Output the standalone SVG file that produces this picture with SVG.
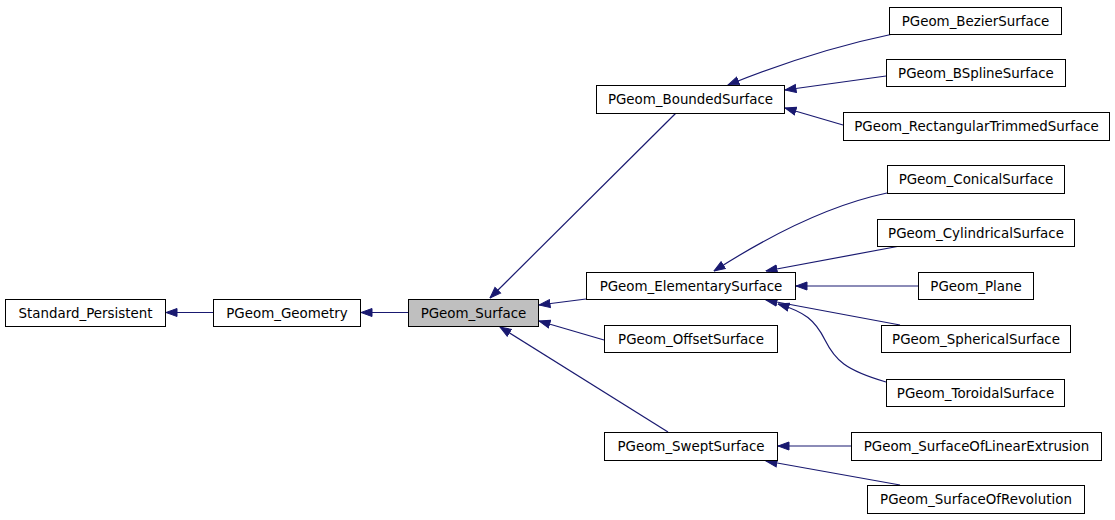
<svg xmlns="http://www.w3.org/2000/svg" width="1115" height="520" viewBox="0 0 1115 520">
<style>
rect{fill:#fff;stroke:#000;stroke-width:1}
.g rect{fill:#bfbfbf}
text{font-family:"DejaVu Sans",sans-serif;font-size:13.4px;text-anchor:middle;fill:#000}
#edges path{fill:none;stroke:#191970;stroke-width:1.2;marker-end:url(#arr)}
</style>
<defs>
<marker id="arr" markerUnits="userSpaceOnUse" markerWidth="12" markerHeight="10" refX="11.5" refY="4.5" orient="auto" viewBox="0 0 12 9">
<path d="M0.5,0.5 L11.5,4.5 L0.5,8.5 z" fill="#191970" stroke="#191970"/>
</marker>
</defs>
<rect x="0" y="0" width="1115" height="520" style="fill:#fff;stroke:none"/>
<g id="edges">
<path d="M213,312.5 L166,312.5"/>
<path d="M408,312.5 L361,312.5"/>
<path d="M676,113 L490,298"/>
<path d="M586,299 L539,305"/>
<path d="M604,340 L539,321"/>
<path d="M668,432 L500,327"/>
<path d="M893,34 C840,45 790,60 728,85"/>
<path d="M886,76 L785,90"/>
<path d="M843,125 L785,108"/>
<path d="M887,193 C830,205 770,235 714,271"/>
<path d="M900,246 L766,271"/>
<path d="M918,286 L796,286"/>
<path d="M900,325 L766,300"/>
<path d="M886,382 C845,370 835,360 825,340 C815,320 805,312 778,304"/>
<path d="M851,446 L778,446"/>
<path d="M900,485 L766,461"/>
</g>
<g id="n_standard_persistent"><rect x="5.5" y="299.5" width="160" height="27"/><text x="85.5" y="317.5">Standard_Persistent</text></g>
<g id="n_geometry"><rect x="213.5" y="299.5" width="147" height="27"/><text x="287" y="317.5">PGeom_Geometry</text></g>
<g id="n_surface" class="g"><rect x="408.5" y="299.5" width="130" height="27"/><text x="473.5" y="317.5">PGeom_Surface</text></g>
<g id="n_bounded"><rect x="596.5" y="85.5" width="188" height="28"/><text x="690.5" y="103.5">PGeom_BoundedSurface</text></g>
<g id="n_elementary"><rect x="586.5" y="272.5" width="209" height="27"/><text x="691" y="290.5">PGeom_ElementarySurface</text></g>
<g id="n_offset"><rect x="604.5" y="325.5" width="173" height="27"/><text x="691" y="343.5">PGeom_OffsetSurface</text></g>
<g id="n_swept"><rect x="604.5" y="432.5" width="173" height="28"/><text x="691" y="450.5">PGeom_SweptSurface</text></g>
<g id="n_bezier"><rect x="889.5" y="7.5" width="172" height="27"/><text x="975.5" y="25.5">PGeom_BezierSurface</text></g>
<g id="n_bspline"><rect x="886.5" y="59.5" width="179" height="27"/><text x="976" y="77.5">PGeom_BSplineSurface</text></g>
<g id="n_rect"><rect x="843.5" y="112.5" width="266" height="28"/><text x="976.5" y="130.5">PGeom_RectangularTrimmedSurface</text></g>
<g id="n_conical"><rect x="887.5" y="165.5" width="177" height="28"/><text x="976" y="183.5">PGeom_ConicalSurface</text></g>
<g id="n_cylindrical"><rect x="877.5" y="219.5" width="197" height="27"/><text x="976" y="237.5">PGeom_CylindricalSurface</text></g>
<g id="n_plane"><rect x="918.5" y="272.5" width="115" height="27"/><text x="976" y="290.5">PGeom_Plane</text></g>
<g id="n_spherical"><rect x="881.5" y="325.5" width="189" height="27"/><text x="976" y="343.5">PGeom_SphericalSurface</text></g>
<g id="n_toroidal"><rect x="886.5" y="379.5" width="178" height="27"/><text x="975.5" y="397.5">PGeom_ToroidalSurface</text></g>
<g id="n_linear"><rect x="851.5" y="432.5" width="250" height="28"/><text x="976.5" y="450.5">PGeom_SurfaceOfLinearExtrusion</text></g>
<g id="n_revolution"><rect x="867.5" y="485.5" width="217" height="28"/><text x="976" y="503.5">PGeom_SurfaceOfRevolution</text></g>
</svg>
